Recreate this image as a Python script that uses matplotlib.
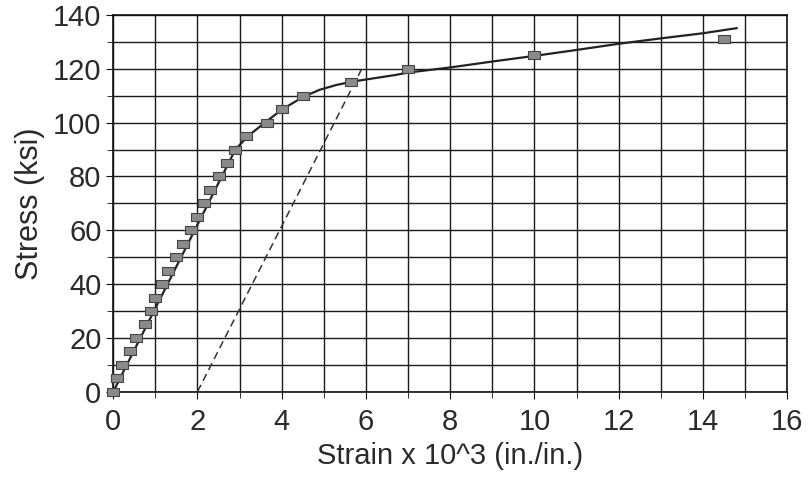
import numpy as np
import matplotlib
matplotlib.use("Agg")
import matplotlib.pyplot as plt

# test data (markers)
strain = [0, 0.1, 0.2, 0.4, 0.55, 0.75, 0.9, 1.0, 1.15, 1.3, 1.5, 1.65, 1.85, 2.0,
          2.15, 2.3, 2.5, 2.7, 2.9, 3.15, 3.65, 4.0, 4.5, 5.65, 7.0, 10.0, 14.5]
stress = [0, 5, 10, 15, 20, 25, 30, 35, 40, 45, 50, 55, 60, 65,
          70, 75, 80, 85, 90, 95, 100, 105, 110, 115, 120, 125, 131]

# fitted curve (solid)
fit_strain = [0, 2.9, 3.2, 3.6, 4.0, 4.5, 4.9, 5.3, 5.7, 6.2, 6.7, 7.0, 8.0, 9.0,
              10.0, 11.0, 12.0, 13.0, 14.0, 14.8]
fit_stress = [0, 90, 95, 100, 104.8, 109.5, 112.2, 114.0, 115.3, 116.5, 117.7,
              118.6, 120.5, 122.7, 124.8, 127.0, 129.3, 131.3, 133.2, 135.1]

# 0.2% offset line (dashed)
offset_strain = [2.0, 5.9]
offset_stress = [0, 120]

plt.rcParams['font.family'] = ['Liberation Sans', 'DejaVu Sans']

fig = plt.figure(figsize=(8.09, 4.83), dpi=100)
ax = fig.add_axes([0.140, 0.189, 0.833, 0.780])

# wide rectangular marker like the scanned original
rect = [(-1.5, -1), (1.5, -1), (1.5, 1), (-1.5, 1), (-1.5, -1)]

ax.plot(fit_strain, fit_stress, color='#222222', lw=1.6, zorder=3)
ax.plot(offset_strain, offset_stress, color='#333333', lw=1.1, ls=(0, (5, 3)), zorder=3)
ax.plot(strain, stress, ls='none', marker=rect, markersize=9, clip_on=False,
        markerfacecolor='#8a8a8a', markeredgecolor='#444444', markeredgewidth=0.8, zorder=4)

ax.set_xlim(0, 16)
ax.set_ylim(0, 140)
ax.set_xticks(np.arange(0, 17, 2))
ax.set_yticks(np.arange(0, 141, 20))
ax.set_xticks(np.arange(0, 17, 1), minor=True)
ax.set_yticks(np.arange(0, 141, 10), minor=True)
ax.grid(True, which='both', color='#1a1a1a', lw=1.0)
for s in ax.spines.values():
    s.set_color('#111111')
    s.set_linewidth(1.2)
ax.tick_params(which='both', direction='out', color='#111111', labelsize=21, labelcolor='#2a2a2a')
ax.tick_params(which='major', length=5)
ax.tick_params(which='minor', length=4)
ax.tick_params(axis='x', pad=7)

ax.set_xlabel("Strain x 10^3 (in./in.)", fontsize=21, color='#2a2a2a', labelpad=4)
ax.set_ylabel("Stress (ksi)", fontsize=22, color='#2a2a2a', labelpad=6)

fig.savefig("out.png", dpi=100)
